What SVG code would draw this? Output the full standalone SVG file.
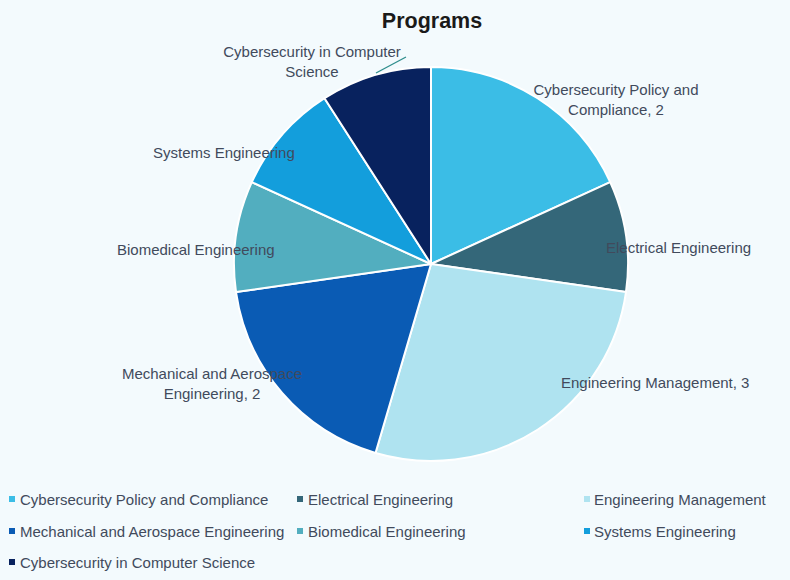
<svg xmlns="http://www.w3.org/2000/svg" width="790" height="580" viewBox="0 0 790 580">
<style>
.lbl{font-family:"Liberation Sans",Arial,sans-serif;font-size:15px;fill:#414a5c}
.leg{font-family:"Liberation Sans",Arial,sans-serif;font-size:15px;fill:#414a5c}
.slice{stroke:#ffffff;stroke-width:2;stroke-linejoin:round}
.title{font-family:"Liberation Sans",Arial,sans-serif;font-size:21.5px;font-weight:bold;fill:#1a1a1a}
</style>
<rect x="0" y="0" width="790" height="580" fill="#f3fafd"/>
<text class="title" x="432" y="28" text-anchor="middle">Programs</text>
<g id="pie">
<g id="slice-cpc"><path class="slice" fill="#3bbde6" d="M431,264 L431,67 A197,197 0 0 1 610.2,182.16 Z"/></g>
<g id="slice-ee"><path class="slice" fill="#346779" d="M431,264 L610.2,182.16 A197,197 0 0 1 625.99,292.03 Z"/></g>
<g id="slice-em"><path class="slice" fill="#afe3f0" d="M431,264 L625.99,292.03 A197,197 0 0 1 375.5,453.02 Z"/></g>
<g id="slice-mae"><path class="slice" fill="#0a5bb4" d="M431,264 L375.5,453.02 A197,197 0 0 1 236,292.03 Z"/></g>
<g id="slice-bio"><path class="slice" fill="#52aebf" d="M431,264 L236,292.03 A197,197 0 0 1 251.8,182.16 Z"/></g>
<g id="slice-sys"><path class="slice" fill="#139edc" d="M431,264 L251.8,182.16 A197,197 0 0 1 324.49,98.27 Z"/></g>
<g id="slice-ccs"><path class="slice" fill="#08225e" d="M431,264 L324.49,98.27 A197,197 0 0 1 431,67 Z"/></g>
</g>
<g id="connectors">
<line x1="406" y1="57" x2="376" y2="73" stroke="#2e8d8c" stroke-width="1.2"/>
</g>
<g id="labels">
<text class="lbl" x="312" y="57" text-anchor="middle">Cybersecurity in Computer</text>
<text class="lbl" x="312" y="77" text-anchor="middle">Science</text>
<text class="lbl" x="616" y="95" text-anchor="middle">Cybersecurity Policy and</text>
<text class="lbl" x="616" y="115" text-anchor="middle">Compliance, 2</text>
<text class="lbl" x="606" y="253">Electrical Engineering</text>
<text class="lbl" x="561" y="388">Engineering Management, 3</text>
<text class="lbl" x="153" y="158">Systems Engineering</text>
<text class="lbl" x="117" y="255">Biomedical Engineering</text>
<text class="lbl" x="212" y="379" text-anchor="middle">Mechanical and Aerospace</text>
<text class="lbl" x="212" y="399" text-anchor="middle">Engineering, 2</text>
</g>
<g id="legend">
<rect x="9" y="496" width="6" height="6" fill="#3bbde6"/>
<text class="leg" x="20" y="505">Cybersecurity Policy and Compliance</text>
<rect x="297" y="496" width="6" height="6" fill="#346779"/>
<text class="leg" x="308" y="505">Electrical Engineering</text>
<rect x="584" y="496" width="6" height="6" fill="#afe3f0"/>
<text class="leg" x="594" y="505">Engineering Management</text>
<rect x="9" y="528" width="6" height="6" fill="#0a5bb4"/>
<text class="leg" x="20" y="537">Mechanical and Aerospace Engineering</text>
<rect x="297" y="528" width="6" height="6" fill="#52aebf"/>
<text class="leg" x="308" y="537">Biomedical Engineering</text>
<rect x="584" y="528" width="6" height="6" fill="#139edc"/>
<text class="leg" x="594" y="537">Systems Engineering</text>
<rect x="9" y="559" width="6" height="6" fill="#08225e"/>
<text class="leg" x="20" y="568">Cybersecurity in Computer Science</text>
</g>
</svg>
